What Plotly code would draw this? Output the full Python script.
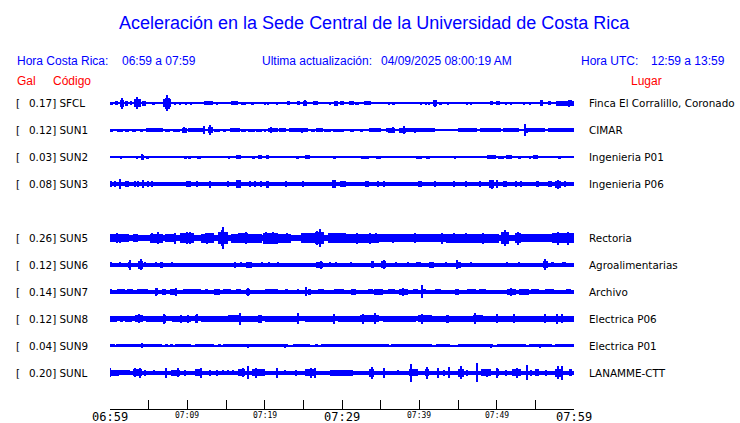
import plotly.graph_objects as go

# ---------------- data ----------------
codes = ["SFCL", "SUN1", "SUN2", "SUN3", "SUN5", "SUN6", "SUN7", "SUN8", "SUN9", "SUNL"]
gal = [0.17, 0.12, 0.03, 0.08, 0.26, 0.12, 0.14, 0.12, 0.04, 0.20]
places = ["Finca El Corralillo, Coronado", "CIMAR", "Ingenieria P01", "Ingenieria P06",
          "Rectoria", "Agroalimentarias", "Archivo", "Electrica P06", "Electrica P01", "LANAMME-CTT"]
tick_minutes = [0, 10, 20, 30, 40, 50, 60]
tick_labels = ["06:59", "07:09", "07:19", "07:29", "07:39", "07:49", "07:59"]
tick_major = [True, False, False, True, False, False, True]

# background noise level (half amplitude, trace units) per station
noise_level = [0.6, 0.8, 0.55, 2.2, 3.3, 1.7, 1.8, 2.5, 0.7, 2.0]

# bursts: (start minute, end minute, half amplitude in trace units)
ev_SFCL = [(0, 0.4, 1.5), (0.65, 1.0, 2), (1.25, 1.75, 3.5), (1.5, 1.5, 5.5), (2.0, 2.35, 2.5),
           (2.6, 2.8, 2), (3.15, 4.0, 4), (3.45, 3.45, 6), (4.1, 4.7, 2.5), (5.4, 5.8, 1.7),
           (6.8, 7.9, 4), (7.1, 7.7, 5.5), (7.4, 7.4, 8), (8.3, 8.55, 1.2), (9.0, 9.2, 1.2),
           (9.7, 9.9, 1.2), (10.45, 10.45, 1.2), (12.2, 13.3, 2), (13.8, 14.0, 1.5), (15.6, 16.6, 2),
           (17.0, 17.6, 1.7), (18.2, 18.6, 1.7), (20, 20, 1.2), (20.5, 20.5, 1.2), (21.6, 21.6, 1.2),
           (22.9, 23.3, 2), (24.2, 24.6, 2), (24.9, 25.5, 2.5), (25.2, 25.2, 3), (26.2, 26.9, 2),
           (28.3, 28.6, 1.7), (29.0, 29.5, 2.2), (29.7, 30.3, 2), (30.9, 31.6, 2), (31.7, 32.2, 1.7),
           (32.8, 33.8, 2), (36.0, 36.2, 1.5), (36.5, 36.8, 1.5), (40.2, 40.4, 1.2), (40.8, 41.0, 1.2),
           (41.3, 41.3, 1.2), (41.8, 42.3, 3), (42.0, 42.0, 3.5), (42.6, 42.9, 1.5), (43.7, 43.9, 1.2),
           (46.0, 46.3, 1.5), (46.5, 46.8, 1.5), (49.2, 49.5, 2), (49.9, 50.4, 2), (51.2, 51.2, 1.2),
           (51.9, 51.9, 1.2), (53.6, 53.6, 1.5), (54.3, 54.3, 1.5), (55.6, 56.0, 3), (56.6, 57.0, 2),
           (57.7, 60, 2.2), (59.3, 59.3, 3.5), (59.6, 59.6, 3)]
ev_SUN1 = [(0, 0.4, 1.5), (0.85, 1.7, 1.7), (1.9, 2.45, 1.7), (2.8, 3.4, 1.5), (3.9, 4.3, 1.5),
           (4.7, 6.9, 1.8), (7.1, 7.7, 1.7), (8.2, 9.0, 1.7), (9.25, 9.9, 2.5), (9.6, 9.6, 3),
           (10.1, 12.2, 2), (12.1, 12.1, 4), (12.7, 13.3, 3), (13.0, 13.0, 5), (13.5, 14.2, 1.5),
           (14.6, 15, 1.5), (15.5, 16.8, 1.8), (17, 17.6, 1.7), (17.85, 18.7, 1.7), (18.9, 19.6, 1.5),
           (19.9, 20.2, 1.5), (20.4, 21.7, 1.8), (20.8, 20.8, 3), (21.9, 22.8, 1.8), (23.1, 25.6, 2),
           (24.8, 24.8, 2.5), (26, 26.5, 1.7), (26.7, 27.5, 1.8), (27.7, 28.6, 1.7), (28.9, 30.3, 1.7),
           (31, 31.6, 1.5), (32.3, 32.7, 1.5), (33.5, 35.1, 1.8), (35.7, 36.1, 2), (35.9, 36.8, 2.5),
           (36.6, 36.6, 3), (37.4, 38.3, 2.5), (38, 38, 4), (38.3, 42, 1.8), (39.5, 39.5, 2.5),
           (42.6, 42.8, 1.2), (44.1, 44.3, 1.2), (45, 47.5, 1.8), (47.8, 50.5, 1.8), (50.8, 52.9, 1.8),
           (53.6, 54, 2.5), (53.7, 53.7, 6), (53.8, 56.3, 1.8), (56.6, 60, 1.8)]
ev_SUN2 = [(1.3, 1.6, 1.5), (2.15, 2.35, 1.2), (3.3, 3.6, 1.5), (4.1, 4.35, 2.5), (4.2, 4.2, 3),
           (4.7, 5.1, 1.5), (5.5, 5.5, 1.2), (6.6, 6.6, 1), (7.6, 7.6, 1.2), (8.6, 8.9, 1.2),
           (9.6, 9.9, 1.5), (10.1, 10.5, 1.5), (11.2, 11.8, 1.5), (12.3, 12.5, 1.2), (13.1, 13.1, 1.2),
           (15.2, 15.5, 1.5), (16.3, 17, 2), (18.3, 18.7, 1.5), (19.1, 19.6, 1.8), (20.2, 20.6, 1.7),
           (22.6, 22.6, 1.2), (24.1, 24.5, 1.5), (25.2, 25.8, 1.8), (27.3, 27.3, 1.2), (28.9, 29.2, 1.5),
           (29.7, 30.3, 1.2), (30.3, 30.5, 1), (31.2, 31.2, 1), (32.5, 33.5, 1.5), (34.4, 35, 1.5),
           (36.3, 36.3, 1.2), (37.6, 38, 1.2), (39.6, 40.4, 1.5), (40.9, 41.4, 1.5), (42.4, 42.4, 1.2),
           (43.4, 43.7, 1.2), (44.5, 44.8, 1.5), (46.7, 46.7, 1.2), (47.8, 48.6, 1.3), (48.8, 49.9, 1.8),
           (50.2, 50.9, 1.5), (51.2, 52, 1.7), (52.7, 53.1, 1.5), (54.2, 54.4, 1.5), (54.7, 55.4, 1.7),
           (56.1, 57.2, 1.3), (57.9, 58.3, 1.5), (59.8, 59.8, 1)]
ev_SUN3 = [(0, 0.2, 3), (0.65, 0.65, 3), (1.3, 1.3, 4.8), (2, 2.45, 3), (3.2, 3.2, 3), (3.6, 3.6, 3),
           (4.2, 4.4, 3.3), (4.3, 4.3, 4), (4.95, 4.95, 3), (5.4, 5.4, 3), (9.8, 10.5, 3), (11.2, 11.2, 3),
           (13, 13, 3.5), (15.2, 15.2, 3), (16.3, 16.9, 4), (18.1, 18.1, 3), (18.8, 18.8, 3),
           (19.5, 19.5, 3), (20.2, 20.6, 3.5), (22.8, 22.8, 3), (24.9, 24.9, 3), (28.7, 29.2, 4),
           (30, 30, 3), (29.7, 30.5, 3), (33, 33.5, 3.2), (34.6, 34.8, 3), (35.5, 35.5, 3),
           (39.8, 40.4, 3.3), (42, 42, 3), (44.5, 44.5, 3), (46, 46, 3), (47.9, 47.9, 3), (49, 49.7, 4),
           (49.4, 49.4, 4.5), (50.1, 50.1, 4), (50.8, 51.4, 3), (52.5, 52.5, 3), (53.1, 53.1, 3),
           (55.1, 55.5, 3.3), (56.6, 57.2, 3.3), (57.6, 58.3, 3.5), (57.9, 57.9, 4.5), (58.9, 58.9, 3)]
ev_SUN5 = [(0, 1.9, 4), (0.9, 0.9, 5), (1.3, 1.3, 4.5), (2, 2.4, 4), (3, 3.6, 3.8), (5.2, 6.9, 4.5),
           (6.2, 6.2, 6), (5.5, 5.5, 5), (7.1, 8.4, 4.2), (8.4, 8.4, 5.5), (9, 10.8, 5), (10, 10, 6),
           (10.4, 10.4, 6), (11.8, 12.3, 4.5), (12.3, 13.5, 4.8), (12.5, 12.5, 5.5), (14, 15.3, 6),
           (14.6, 14.6, 11), (14.4, 14.8, 8), (15.7, 16.6, 4.5), (16.6, 17.8, 5), (17.6, 17.6, 6),
           (17.8, 19.6, 4.5), (19.8, 21.7, 5.5), (20.2, 20.2, 6), (21.1, 21.1, 6), (21.7, 23.4, 4.5),
           (22.9, 22.9, 5), (24.7, 26.9, 4.8), (26.5, 27.7, 6), (27.2, 27.2, 9), (26.8, 26.8, 7),
           (28.2, 30.3, 5), (29.7, 30.5, 5), (30.5, 34.8, 4.5), (31.9, 31.9, 5.5), (33.6, 33.6, 5.5),
           (34.4, 34.4, 5), (34.8, 39.6, 4), (36.6, 36.6, 4.5), (39.4, 39.4, 5), (39.6, 43.4, 4),
           (43, 43, 5.5), (43.4, 46.9, 4.5), (44.5, 44.5, 5), (46, 46, 5), (46.9, 50.3, 4.5),
           (48.2, 48.2, 5.5), (50.6, 51.6, 6), (51.1, 51.1, 8), (52.4, 53.1, 5), (52.7, 52.7, 6.5),
           (53.1, 57.2, 4), (57.2, 60, 5), (57.9, 57.9, 6.5), (59.2, 59.2, 6.5)]
ev_SUN6 = [(0, 0.3, 2.5), (1.3, 1.3, 2.5), (2.35, 2.7, 3), (2.6, 2.6, 5), (3.65, 4.3, 4), (4, 4, 5.5),
           (4.5, 4.5, 2.5), (5.9, 5.9, 2.5), (6.45, 6.9, 3), (8, 8, 2.5), (11.4, 11.4, 2.2),
           (12.7, 12.7, 2.2), (16.1, 16.3, 3), (17, 17, 2.5), (17.6, 18.3, 3), (19.6, 19.6, 2.5),
           (20.6, 20.6, 2.5), (21.7, 21.7, 2.5), (23, 23, 2.2), (26.7, 27.5, 3), (27.3, 27.3, 4),
           (28.4, 28.4, 2.5), (29.2, 29.2, 2.5), (31.2, 31.2, 2.5), (33.8, 34.2, 3.5), (35, 35.7, 3.5),
           (35.4, 35.4, 4.5), (37, 37, 2.5), (38.5, 38.5, 2.5), (39.6, 40.2, 2.5), (41.3, 41.9, 3),
           (43.4, 43.4, 2.5), (44.7, 45.4, 3), (44.9, 44.9, 4.5), (46.7, 46.7, 2.5), (51.4, 51.4, 2.5),
           (52.9, 52.9, 2.5), (56, 56.6, 3.5), (56.2, 56.2, 5.5), (57, 57.4, 2.5), (58.5, 59, 2.5)]
ev_SUN7 = [(0, 0.2, 2.5), (0.85, 1.9, 2.5), (2.15, 3, 2.5), (3.45, 4.9, 2.5), (5.8, 6.2, 3.5),
           (6, 6, 4), (6.7, 7.3, 2.8), (7.7, 8.6, 2.8), (8.6, 8.6, 4), (9.5, 11.8, 2.5), (12.3, 12.7, 2.5),
           (13.5, 14.2, 3), (14.6, 15.7, 2.5), (16.3, 17, 2.5), (17.6, 18.1, 3), (17.8, 17.8, 4),
           (20, 21.7, 2.5), (22.6, 23, 2.5), (24.3, 24.5, 2.5), (25.6, 26, 3), (25.4, 25.4, 4.5),
           (26.9, 27.7, 2.5), (29, 30.3, 2.5), (29.7, 30.1, 2.5), (31.2, 31.8, 2.8), (33.3, 34, 2.5),
           (34.2, 35.3, 2.8), (35.9, 36.8, 2.5), (37.4, 38.5, 3), (37.9, 37.9, 4), (39.2, 39.8, 2.5),
           (40.3, 40.3, 6.5), (40.6, 40.8, 2.5), (42, 42.8, 2.5), (44.6, 45.1, 3), (46.2, 47.3, 2.5),
           (47.7, 48.6, 2.5), (51.4, 52.5, 3), (51.8, 51.8, 4), (52.9, 54.2, 2.8), (54.4, 55.5, 2.5),
           (56.3, 57.4, 2.5), (59, 59.6, 2.5)]
ev_SUN8 = [(0, 0.9, 3), (1.3, 1.7, 3), (1.9, 2.8, 3), (3.2, 4.3, 3.5), (3.7, 3.7, 4.5), (4.7, 6.9, 3),
           (6.9, 7.3, 4), (7, 7, 5), (8, 10.5, 3), (9.2, 9.2, 4), (10.1, 10.1, 4), (11, 11.4, 4),
           (11.2, 11.2, 4.5), (11.8, 15.3, 3), (15.3, 17, 3.5), (16.8, 16.8, 6), (17, 19.1, 3),
           (19.1, 19.6, 4), (20, 24.3, 3), (24.3, 24.3, 5.5), (25.2, 29, 3), (29, 29, 5), (29.5, 32.3, 3.2),
           (32.3, 34.8, 3.5), (32.7, 32.7, 5), (34.3, 34.3, 5.5), (35.3, 39.6, 3), (39.8, 41.7, 3.5),
           (40.3, 40.3, 5), (43.4, 43.9, 4), (41.7, 46.9, 3), (46.9, 48.2, 3.5), (47.2, 47.2, 5.5),
           (48.2, 60, 3), (50, 50, 4.5), (52.3, 52.3, 4.5), (56.3, 56.3, 4.5), (57.8, 57.8, 5),
           (58.4, 58.4, 4.5)]
ev_SUN9 = [(0, 0.65, 1.4), (0.8, 1.7, 1.4), (1.7, 4.1, 1.5), (4.1, 4.1, 2.5), (4.3, 6.7, 1.4),
           (7.1, 7.5, 1.3), (7.7, 8.2, 1.3), (8.4, 10.5, 1.4), (11, 13.5, 1.4), (14, 14.4, 1.3),
           (14.6, 23, 1.4), (17.9, 17.9, 2), (22.6, 22.6, 2), (23.7, 25.8, 1.4), (26.5, 26.9, 1.3),
           (27.3, 30.3, 1.4), (29.7, 36.1, 1.4), (36.3, 41.7, 1.4), (42.2, 44, 1.4), (45, 49.5, 1.5),
           (49.3, 49.3, 2), (50, 53.8, 1.4), (54.2, 57.2, 1.4), (55.6, 55.6, 2), (57.6, 60, 1.4)]
ev_SUNL = [(0, 1.1, 3), (0, 0, 4.5), (1.1, 2.6, 2.5), (3, 4.1, 3.5), (3.3, 3.3, 4.5), (3.9, 3.9, 5),
           (4.5, 4.7, 2.8), (5.7, 5.7, 2.5), (7.2, 7.2, 5), (7.95, 9, 3), (8.8, 8.8, 4.5), (9.7, 9.7, 3),
           (11, 11.8, 3.5), (11.8, 11.8, 5), (12.9, 12.9, 3), (13.8, 13.8, 3), (14.6, 14.6, 2.5),
           (15.3, 15.3, 2.5), (15.9, 15.9, 2.5), (16.6, 17.4, 3.5), (17.2, 17.2, 4.5), (17.85, 17.85, 6.7),
           (18.3, 20, 3.5), (18.9, 18.9, 5), (21.6, 21.6, 5), (22.6, 22.6, 2.5), (24.1, 24.1, 3),
           (25.2, 26.7, 3.5), (26, 26, 5), (26.5, 26.5, 5), (28.4, 30.3, 3), (29.7, 31.4, 2.8),
           (33.5, 34.2, 4), (33.9, 33.9, 6), (35.5, 35.5, 5), (37.2, 37.2, 2.5), (38.7, 39.8, 3.5),
           (38.9, 38.9, 9), (40.7, 41.3, 3.5), (41, 41, 6), (42.4, 42.4, 5), (43.2, 43.2, 3),
           (43.9, 43.9, 5.5), (45, 45.8, 4), (45.4, 45.4, 6.5), (46.2, 46.2, 3), (47.4, 47.4, 9.5),
           (48, 49.3, 3.5), (48.8, 48.8, 4), (49.9, 50.3, 3.5), (50.1, 50.1, 5), (51.2, 51.2, 3),
           (52, 53.1, 3.5), (52.6, 52.6, 5), (53.9, 53.9, 7.5), (54.4, 54.4, 3), (55, 55.5, 3.5),
           (56.4, 56.4, 3), (57.6, 58.5, 4), (57.9, 57.9, 6.5), (58.5, 58.5, 7), (59.4, 59.8, 3.5)]
events = [ev_SFCL, ev_SUN1, ev_SUN2, ev_SUN3, ev_SUN5, ev_SUN6, ev_SUN7, ev_SUN8, ev_SUN9, ev_SUNL]

# ---------------- layout constants ----------------
W, H = 740, 423
L, R, T, B = 110.3, 740 - 574.3, 88, 14
PW, PH = W - L - R, H - T - B
ROW0_PX, ROW_PX = 103.3, 26.94           # pixel centre of first row, row spacing
y_top = (T - ROW0_PX) / ROW_PX
y_bot = (H - B - ROW0_PX) / ROW_PX
AMP = 1.0 / ROW_PX                        # trace units -> row units
SPIKE_W = 0.14
BLUE = "#0000FF"

def px2x(px):
    return (px - L) / PW

def px2y(py):
    return (H - B - py) / PH

fig = go.Figure()
slots = [i + (1 if i >= 4 else 0) for i in range(len(codes))]

for i, code in enumerate(codes):
    s = slots[i]
    xs, ws, bases, hs = [30], [60], [s - noise_level[i] * AMP], [2 * noise_level[i] * AMP]
    for (t0, t1, a) in events[i]:
        xs.append((t0 + t1) / 2)
        ws.append(max(t1 - t0, SPIKE_W))
        bases.append(s - a * AMP)
        hs.append(2 * a * AMP)
    fig.add_trace(go.Bar(x=xs, y=hs, base=bases, width=ws, marker=dict(color=BLUE, line=dict(width=0)),
                         hoverinfo="skip", showlegend=False))

ann = []
lab_font = dict(family="DejaVu Sans", size=10.4, color="black")
for i, code in enumerate(codes):
    s = slots[i]
    ann.append(dict(x=px2x(14), y=s, xref="paper", yref="y", text="[", showarrow=False,
                    xanchor="left", yanchor="middle", font=lab_font))
    ann.append(dict(x=px2x(27), y=s, xref="paper", yref="y", text=f"{gal[i]:.2f}] {code}", showarrow=False,
                    xanchor="left", yanchor="middle", font=lab_font))
    ann.append(dict(x=px2x(587), y=s, xref="paper", yref="y", text=places[i], showarrow=False,
                    xanchor="left", yanchor="middle", font=lab_font))

for m, lab, big in zip(tick_minutes, tick_labels, tick_major):
    ann.append(dict(x=m, y=px2y(416.5 if big else 415.5), xref="x", yref="paper", text=lab, showarrow=False,
                    xanchor="center", yanchor="middle",
                    font=dict(family="DejaVu Sans Mono", size=12 if big else 8, color="black")))

hdr = dict(family="Liberation Sans, Arial, sans-serif", size=12, color=BLUE)
red = dict(family="Liberation Sans, Arial, sans-serif", size=12, color="#FF0000")
for txt, px, py, f in [("Hora Costa Rica:", 15, 61, hdr), ("06:59 a 07:59", 120, 61, hdr),
                       ("Ultima actualización:", 260, 61, hdr), ("04/09/2025 08:00:19 AM", 379, 61, hdr),
                       ("Hora UTC:", 579, 61, hdr), ("12:59 a 13:59", 649, 61, hdr),
                       ("Gal", 15, 81, red), ("Código", 51, 81, red), ("Lugar", 629, 81, red)]:
    ann.append(dict(x=px2x(px), y=px2y(py), xref="paper", yref="paper", text=txt, showarrow=False,
                    xanchor="left", yanchor="middle", font=f))

ann.append(dict(x=px2x(375), y=px2y(23), xref="paper", yref="paper",
                text="Aceleración en la Sede Central de la Universidad de Costa Rica", showarrow=False,
                xanchor="center", yanchor="middle",
                font=dict(family="Liberation Sans, Arial, sans-serif", size=18, color=BLUE)))

fig.update_layout(
    width=W, height=H, margin=dict(l=L, r=R, t=T, b=B, pad=0),
    paper_bgcolor="white", plot_bgcolor="white", barmode="overlay", bargap=0,
    annotations=ann, showlegend=False,
    xaxis=dict(range=[0, 60], showgrid=False, zeroline=False, showline=True, linecolor="black",
               linewidth=1, ticks="inside", ticklen=9, tickcolor="black", tickwidth=1,
               tickvals=list(range(0, 61, 5)), showticklabels=False, fixedrange=True),
    yaxis=dict(range=[y_bot, y_top], showgrid=False, zeroline=False, showline=False,
               showticklabels=False, ticks="", fixedrange=True),
)

fig.write_html("out.html", config={"displayModeBar": False},
               post_script="document.body.style.margin='0px';document.body.style.overflow='hidden';")
